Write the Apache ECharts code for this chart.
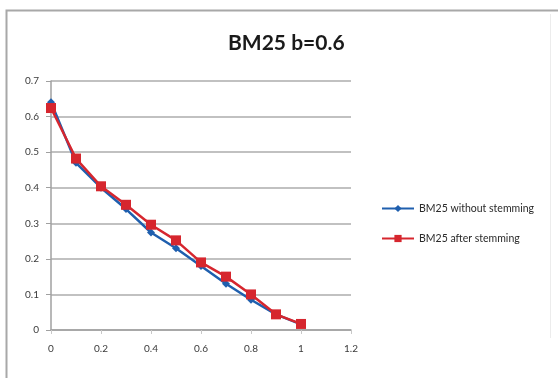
<!DOCTYPE html>
<html>
<head>
<meta charset="utf-8">
<script src="https://cdn.jsdelivr.net/npm/echarts@6/dist/echarts.min.js"></script>
<style>
  html, body { margin: 0; padding: 0; background: #fff; }
  #chart { width: 558px; height: 378px; }
</style>
</head>
<body>
<div id="chart"></div>
<script>
// b 参数取值 (x 轴)
const xValues = [0, 0.1, 0.2, 0.3, 0.4, 0.5, 0.6, 0.7, 0.8, 0.9, 1.0];
// 两个系列的值
const withoutStemming = [0.64, 0.47, 0.40, 0.34, 0.274, 0.23, 0.18, 0.13, 0.085, 0.044, 0.016];
const afterStemming = [0.624, 0.482, 0.404, 0.352, 0.296, 0.252, 0.19, 0.15, 0.10, 0.044, 0.017];
const seriesNames = ['BM25 without stemming', 'BM25 after stemming'];

const toPairs = vals => xValues.map((x, i) => [x, vals[i]]);

const chart = echarts.init(document.getElementById('chart'));
chart.setOption({
  animation: false,
  backgroundColor: '#fff',
  title: {
    text: 'BM25 b=0.6',
    left: 223, top: 28,
    textStyle: { fontFamily: 'Lato', fontWeight: 'bold', fontSize: 21, color: '#1a1a1a' }
  },
  // 外框
  graphic: [{
    type: 'polyline',
    shape: { points: [[6.5, 378], [6.5, 10.5], [558, 10.5]] },
    style: { stroke: '#a8a8a8', lineWidth: 2, fill: null }
  }, {
    type: 'line',
    shape: { x1: 550.5, y1: 14, x2: 550.5, y2: 338 },
    style: { stroke: '#ececec', lineWidth: 1 }
  }],
  grid: { left: 51, right: 207, top: 81, bottom: 48 },
  legend: {
    orient: 'vertical',
    left: 376, top: 198,
    itemWidth: 32, itemHeight: 9, itemGap: 19,
    textStyle: { fontFamily: 'Lato', fontSize: 10.5, color: '#2a2a2a' },
    data: seriesNames
  },
  xAxis: {
    type: 'value', min: 0, max: 1.2, interval: 0.2,
    axisLine: { show: true, lineStyle: { color: '#a0a0a0', width: 1.5 } },
    axisTick: { show: true, length: 4, lineStyle: { color: '#c8c8c8' } },
    axisLabel: { margin: 14, fontFamily: 'Lato', fontSize: 10, color: '#3a3a3a' },
    splitLine: { show: false }
  },
  yAxis: {
    type: 'value', min: 0, max: 0.7, interval: 0.1,
    axisLine: { show: true, lineStyle: { color: '#a0a0a0', width: 1.5 } },
    axisTick: { show: true, length: 5, lineStyle: { color: '#a0a0a0' } },
    axisLabel: { margin: 12, fontFamily: 'Lato', fontSize: 10, color: '#3a3a3a' },
    splitLine: { show: true, lineStyle: { color: '#acacac', width: 1.5 } }
  },
  series: [{
    name: seriesNames[0],
    type: 'line',
    data: toPairs(withoutStemming),
    symbol: 'diamond', symbolSize: 8,
    lineStyle: { color: '#1f5fae', width: 2.5 },
    itemStyle: { color: '#1f5fae' }
  }, {
    name: seriesNames[1],
    type: 'line',
    data: toPairs(afterStemming),
    symbol: 'rect', symbolSize: 10,
    lineStyle: { color: '#d6262e', width: 2.5 },
    itemStyle: { color: '#d6262e' }
  }]
});
</script>
</body>
</html>
